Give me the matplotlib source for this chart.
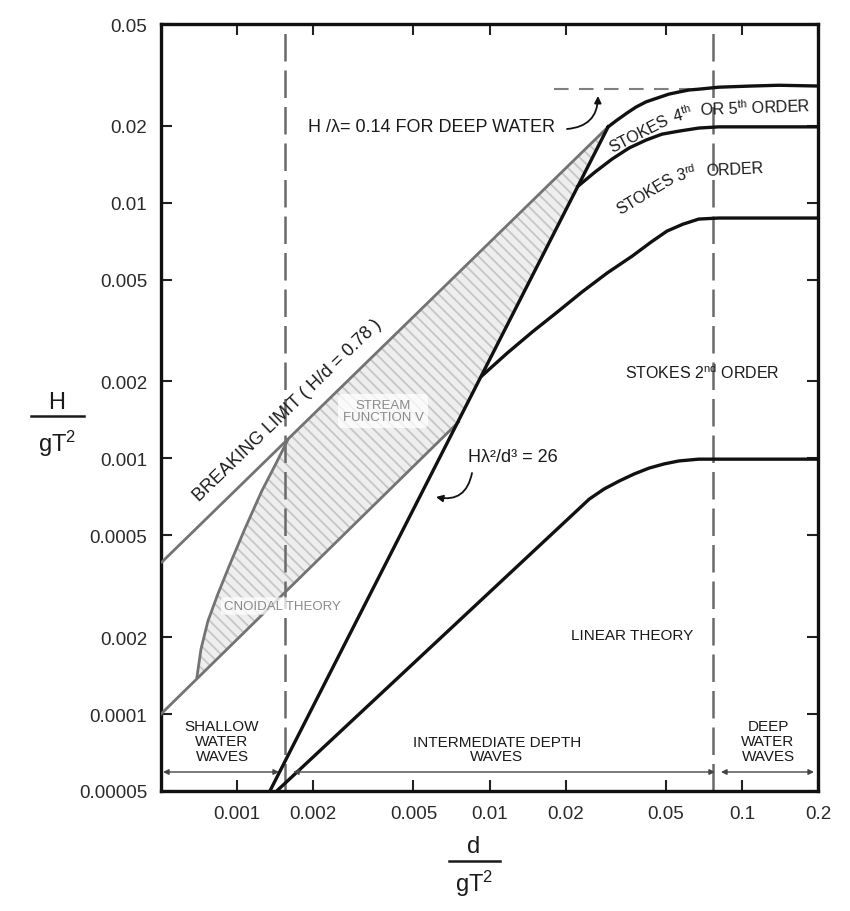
import matplotlib
matplotlib.use("Agg")
import matplotlib.pyplot as plt
from matplotlib.lines import Line2D

plt.rcParams['font.family'] = ['Liberation Sans', 'DejaVu Sans']
plt.rcParams['mathtext.fontset'] = 'custom'
plt.rcParams['mathtext.rm'] = 'Liberation Sans'
plt.rcParams['mathtext.it'] = 'Liberation Sans'
plt.rcParams['mathtext.bf'] = 'Liberation Sans:bold'
plt.rcParams['hatch.linewidth'] = 1.3

# ---------------- data ----------------
# Breaking limit H/d = 0.78 (gray)
break_x = [0.0005, 0.0295]
break_y = [0.00039, 0.0198]
# Upper limit curve (H/lambda = 0.14 for deep water), black
upper_x = [0.0295, 0.03199, 0.0351, 0.03802, 0.0417, 0.04603, 0.0514, 0.05623, 0.0617,
           0.06745, 0.0809, 0.1064, 0.140, 0.2]
upper_y = [0.0198, 0.02104, 0.02245, 0.02366, 0.0248, 0.02564, 0.0266, 0.0271, 0.0276,
           0.0278, 0.0283, 0.02858, 0.0288, 0.0286]
# Stokes 4th/5th order lower limit
s45_x = [0.0224, 0.02618, 0.03062, 0.03573, 0.0417, 0.04819, 0.05623, 0.06745, 0.0809, 0.2]
s45_y = [0.0116, 0.01318, 0.01483, 0.01637, 0.01758, 0.01854, 0.01905, 0.01959, 0.0198, 0.0198]
# Stokes 3rd order lower limit
s3_x = [0.00937, 0.01176, 0.01476, 0.01854, 0.02328, 0.02924, 0.03673, 0.04365, 0.05047,
        0.05834, 0.06745, 0.0809, 0.2]
s3_y = [0.00211, 0.002582, 0.00312, 0.003733, 0.00448, 0.005309, 0.00618, 0.007015, 0.007745,
        0.008241, 0.00863, 0.00871, 0.00871]
# Linear theory upper limit
lin_x = [0.001437, 0.02484, 0.02844, 0.0326, 0.03741, 0.04285, 0.04909, 0.05623, 0.06745, 0.2]
lin_y = [0.00005, 0.000693, 0.000759, 0.000815, 0.000869, 0.000916, 0.000951, 0.000977,
         0.000993, 0.000993]
# Ursell limit H lambda^2 / d^3 = 26
urs_x = [0.00135, 0.0295]
urs_y = [0.00005, 0.0198]
# Lower limit of cnoidal / stream function region (gray)
low_x = [0.0005, 0.00754]
low_y = [0.0001, 0.001387]
# Cnoidal theory left boundary (gray)
cn_x = [0.000694, 0.000720, 0.000767, 0.000839, 0.000938, 0.001074, 0.001253, 0.001424, 0.001588]
cn_y = [0.0001396, 0.0001794, 0.000231, 0.000294, 0.000386, 0.000530, 0.000745, 0.000951, 0.00118]
# Deep-water steepness reference (dashed)
deep_ref_x = [0.018, 0.062]
deep_ref_y = [0.0278, 0.0278]
# Depth class limits
shallow_limit = 0.00155
deep_limit = 0.077

xticks = [0.001, 0.002, 0.005, 0.01, 0.02, 0.05, 0.1, 0.2]
xtick_labels = ['0.001', '0.002', '0.005', '0.01', '0.02', '0.05', '0.1', '0.2']
yticks = [0.05, 0.02, 0.01, 0.005, 0.002, 0.001, 0.0005, 0.0002, 0.0001, 0.00005]
ytick_labels = ['0.05', '0.02', '0.01', '0.005', '0.002', '0.001', '0.0005', '0.002', '0.0001', '0.00005']

# ---------------- figure ----------------
W, H = 850, 912
fig = plt.figure(figsize=(W / 100, H / 100), dpi=100)
L, R, T, B = 161, 818, 25, 792
ax = fig.add_axes([L / W, 1 - B / H, (R - L) / W, (B - T) / H])
ax.set_xscale('log')
ax.set_yscale('log')
ax.set_xlim(0.0005, 0.2)
ax.set_ylim(0.00005, 0.05)

GRAY = '#737373'
BLK = '#111111'

# hatched stream-function region
poly_x = cn_x + [break_x[1]] + [low_x[1]] + [cn_x[0]]
poly_y = cn_y + [break_y[1]] + [low_y[1]] + [cn_y[0]]
ax.fill(poly_x, poly_y, facecolor='#eeeeee', edgecolor='#c6c6c6', hatch='\\' * 3, linewidth=0, zorder=1)

# gray lines
ax.plot(break_x, break_y, color=GRAY, lw=2.0, zorder=3, solid_capstyle='butt')
ax.plot(low_x, low_y, color=GRAY, lw=2.0, zorder=3)
ax.plot(cn_x, cn_y, color=GRAY, lw=2.0, zorder=3, solid_joinstyle='round')

# black lines
for xs, ys in [(upper_x, upper_y), (s45_x, s45_y), (s3_x, s3_y), (lin_x, lin_y), (urs_x, urs_y)]:
    ax.plot(xs, ys, color=BLK, lw=2.4, zorder=4, solid_joinstyle='round')

# dashed lines
ax.axvline(shallow_limit, color='#6a6a6a', lw=1.8, ls=(0, (11, 3.6)), zorder=2)
ax.axvline(deep_limit, color='#6a6a6a', lw=1.8, ls=(0, (11, 3.6)), zorder=2)
ax.plot(deep_ref_x, deep_ref_y, color='#808080', lw=1.5, ls=(0, (7, 5)), zorder=2)

# ticks
ax.set_xticks(xticks)
ax.set_xticklabels(xtick_labels)
ax.set_yticks(yticks)
ax.set_yticklabels(ytick_labels)
ax.minorticks_off()
ax.tick_params(which='both', direction='in', length=8, width=1.5, top=True, right=True,
               labelsize=13.5, labelcolor='#2a2a2a', color='#222222', pad=10)
for s in ax.spines.values():
    s.set_linewidth(2.4)
    s.set_color('#111111')

# ---------------- labels ----------------
def axpos(px, py):
    return ((px - L) / (R - L), (B - py) / (B - T))

def t(px, py, s, **kw):
    x, y = axpos(px, py)
    kw.setdefault('ha', 'center')
    kw.setdefault('va', 'center')
    kw.setdefault('color', '#1a1a1a')
    ax.text(x, y, s, transform=ax.transAxes, rotation_mode='anchor', zorder=6, **kw)

t(288, 411, 'BREAKING LIMIT ( H/d = 0.78 )', fontsize=13, rotation=44)
t(432, 127, 'H /λ= 0.14 FOR DEEP WATER', fontsize=13)
t(639, 134, 'STOKES', fontsize=11.5, rotation=27)
t(682, 114, r'4$^{\rm th}$', fontsize=11.5, rotation=15)
t(755, 108, r'OR 5$^{\rm th}$ ORDER', fontsize=11.5, rotation=2)
t(646, 195, 'STOKES', fontsize=11.5, rotation=31)
t(686, 174, r'3$^{\rm rd}$', fontsize=11.5, rotation=12)
t(735, 170, 'ORDER', fontsize=11.5, rotation=3)
t(702, 373, r'STOKES 2$^{\rm nd}$ ORDER', fontsize=11.5)
t(513, 457, 'Hλ²/d³ = 26', fontsize=13)
t(632, 636, 'LINEAR THEORY', fontsize=11)
t(383, 412, 'STREAM\nFUNCTION V', fontsize=9.5, color='#8a8a8a', linespacing=1.1,
  bbox=dict(boxstyle='round,pad=0.35', fc='white', ec='none', alpha=0.75))
t(282, 607, 'CNOIDAL THEORY', fontsize=9.5, color='#8a8a8a',
  bbox=dict(boxstyle='round,pad=0.2', fc='white', ec='none', alpha=0.75))
t(222, 742, 'SHALLOW\nWATER\nWAVES', fontsize=11, linespacing=1.05)
t(497, 750, 'INTERMEDIATE DEPTH\nWAVES', fontsize=11, linespacing=1.05)
t(768, 742, 'DEEP\nWATER\nWAVES', fontsize=11, linespacing=1.05)

# double arrows for depth classes
for x0, x1 in [(163, 279), (293, 715), (721, 814)]:
    a0 = axpos(x0, 773)
    a1 = axpos(x1, 773)
    ax.annotate('', xy=a1, xytext=a0, xycoords='axes fraction', textcoords='axes fraction',
                arrowprops=dict(arrowstyle='<|-|>', color='#444444', lw=1.0,
                                mutation_scale=8, shrinkA=0, shrinkB=0), zorder=5)

# curved pointer arrows
ax.annotate('', xy=axpos(598, 97), xytext=axpos(567, 130), xycoords='axes fraction',
            textcoords='axes fraction',
            arrowprops=dict(arrowstyle='-|>', color='#111111', lw=1.3, mutation_scale=10,
                            shrinkA=0, shrinkB=0, connectionstyle='arc3,rad=0.45'))
ax.annotate('', xy=axpos(436, 498), xytext=axpos(472, 474), xycoords='axes fraction',
            textcoords='axes fraction',
            arrowprops=dict(arrowstyle='-|>', color='#111111', lw=1.3, mutation_scale=10,
                            shrinkA=0, shrinkB=0, connectionstyle='arc3,rad=-0.5'))

# fraction axis labels
def ftext(px, py, s, **kw):
    fig.text(px / W, 1 - py / H, s, ha='center', va='center', color='#1a1a1a', **kw)

def fbar(x0, x1, py):
    fig.add_artist(Line2D([x0 / W, x1 / W], [1 - py / H, 1 - py / H], color='#1a1a1a', lw=1.8))

ftext(57, 403, 'H', fontsize=17)
fbar(31, 84, 417)
ftext(57, 444, r'gT$^2$', fontsize=17)

ftext(474, 847, 'd', fontsize=17)
fbar(449, 500, 862)
ftext(474, 884, r'gT$^2$', fontsize=17)

fig.savefig('out.png', dpi=100, facecolor='white')
